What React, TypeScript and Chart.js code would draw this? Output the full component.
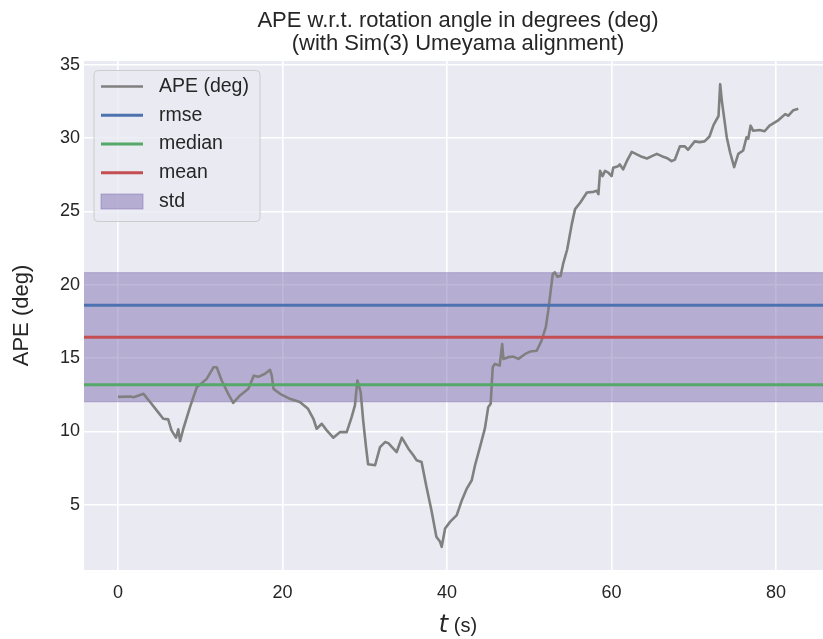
import React, { useEffect, useRef } from "react";
import { Chart, registerables } from "chart.js";

Chart.register(...registerables);

// Absolute pose error over time (seconds, degrees)
const TIME_S = [
  0.0, 1.5, 1.9, 3.1, 3.9, 4.7, 5.5, 6.1, 6.5, 7.05, 7.33, 7.54, 7.94, 8.75, 9.57, 10.78, 11.6, 12.0,
  12.6, 13.4, 14.0, 14.83, 15.85, 16.5, 17.06, 17.87, 18.48, 18.69, 18.9, 19.7, 20.9, 22.1, 23.1,
  23.75, 24.15, 24.77, 25.37, 26.17, 27.0, 27.8, 28.4, 28.8, 29.1, 29.5, 29.8, 30.15, 30.4, 31.25,
  31.85, 32.46, 32.86, 33.87, 34.5, 35.3, 35.9, 36.3, 36.9, 37.5, 38.1, 38.7, 39.15, 39.35, 39.76,
  40.36, 41.18, 41.8, 42.4, 43.0, 43.4, 44.0, 44.6, 45.0, 45.3, 45.55, 45.8, 46.4, 46.7, 46.85,
  47.45, 48.06, 48.67, 49.5, 50.1, 50.9, 51.5, 52.0, 52.3, 52.6, 52.85, 53.1, 53.4, 53.8, 54.1,
  54.6, 55.16, 55.56, 56.2, 57.0, 57.8, 58.2, 58.4, 58.6, 58.9, 59.2, 59.6, 60.0, 60.2, 60.8, 61.0,
  61.4, 61.85, 62.45, 63.5, 64.3, 64.9, 65.5, 66.1, 66.7, 67.3, 67.7, 68.3, 68.9, 69.3, 70.1, 70.7,
  71.3, 71.9, 72.4, 73.0, 73.2, 73.4, 74.0, 74.4, 74.9, 75.4, 76.0, 76.4, 76.6, 76.9, 77.2, 78.0,
  78.6, 79.2, 80.2, 81.1, 81.5, 82.1, 82.7,
];

const APE_DEG = [
  12.35, 12.38, 12.33, 12.56, 12.0, 11.43, 10.86, 10.82, 10.07, 9.57, 10.14, 9.34, 10.18, 11.65, 13.0,
  13.58, 14.37, 14.37, 13.47, 12.56, 11.95, 12.45, 12.9, 13.8, 13.72, 13.93, 14.2, 13.8, 12.9, 12.56,
  12.22, 12.0, 11.54, 10.86, 10.18, 10.52, 10.07, 9.57, 9.95, 9.95, 10.97, 11.77, 13.47, 12.67, 10.75,
  8.93, 7.76, 7.69, 8.93, 9.27, 9.2, 8.59, 9.57, 8.82, 8.37, 8.03, 7.91, 6.21, 4.63, 2.81, 2.47, 2.13,
  3.38, 3.83, 4.29, 5.31, 6.1, 6.67, 7.69, 8.93, 10.2, 11.65, 11.88, 14.37, 14.6, 14.49, 15.96, 14.94,
  15.06, 15.1, 14.94, 15.28, 15.44, 15.5, 16.2, 17.1, 18.23, 19.6, 20.73, 20.84, 20.55, 20.6, 21.4,
  22.4, 24.13, 25.15, 25.6, 26.28, 26.33, 26.4, 26.17, 27.76, 27.4, 27.76, 27.64, 27.4, 27.97, 28.08,
  28.2, 27.86, 28.42, 29.05, 28.76, 28.6, 28.76, 28.92, 28.76, 28.64, 28.42, 28.53, 29.43, 29.43,
  29.2, 29.77, 29.72, 29.77, 30.1, 30.9, 31.5, 33.67, 32.55, 30.05, 29.03, 28.01, 28.92, 29.15, 30.05,
  29.94, 30.84, 30.5, 30.55, 30.46, 30.84, 31.18, 31.63, 31.52, 31.9, 32.0,
];

// Summary statistics of the error
const STAT_NAMES = ["rmse", "median", "mean"];
const STAT_VALUES = [18.6, 13.18, 16.42];
const STAT_COLORS = ["#4C72B0", "#55A868", "#C44E52"];
const STD_NAME = "std";
const STD_VALUE = 8.8;
const MEAN_VALUE = STAT_VALUES[2];

const X_TICKS = [0, 20, 40, 60, 80];
const Y_TICKS = [5, 10, 15, 20, 25, 30, 35];
const X_LIMITS = [-4.135, 85.7];
const Y_LIMITS = [0.55, 35.25];

const TITLE_LINES = ["APE w.r.t. rotation angle in degrees (deg)", "(with Sim(3) Umeyama alignment)"];
const Y_LABEL = "APE (deg)";
const LINE_LABEL = "APE (deg)";

const FONT = "'Liberation Sans', Arial, sans-serif";
const TEXT_COLOR = "#262626";
const AXES_BG = "#EAEAF2";
const LINE_GRAY = "#808080";
const STD_FILL = "rgba(129,114,178,0.5)";

const decorPlugin = {
  id: "decor",
  beforeDraw(chart: any) {
    const { ctx, chartArea } = chart;
    ctx.save();
    ctx.fillStyle = AXES_BG;
    ctx.fillRect(chartArea.left, chartArea.top, chartArea.right - chartArea.left, chartArea.bottom - chartArea.top);
    ctx.restore();
  },
  afterDraw(chart: any) {
    const { ctx, chartArea } = chart;
    const left = chartArea.left;
    const top = chartArea.top;
    const cx = left + 374;
    ctx.save();
    ctx.fillStyle = TEXT_COLOR;
    ctx.textAlign = "center";
    ctx.textBaseline = "middle";

    // title
    ctx.font = `22px ${FONT}`;
    ctx.fillText(TITLE_LINES[0], cx, 21);
    ctx.fillText(TITLE_LINES[1], cx, 44);

    // y label
    ctx.save();
    ctx.translate(22, (chartArea.top + chartArea.bottom) / 2);
    ctx.rotate(-Math.PI / 2);
    ctx.font = `22px ${FONT}`;
    ctx.fillText(Y_LABEL, 0, 0);
    ctx.restore();

    // x label: italic t followed by (s)
    ctx.textAlign = "left";
    ctx.textBaseline = "alphabetic";
    const tFont = `italic 24px 'DejaVu Sans', ${FONT}`;
    const sFont = `20px ${FONT}`;
    ctx.font = tFont;
    const wT = ctx.measureText("t").width;
    ctx.font = sFont;
    const wS = ctx.measureText(" (s)").width;
    const x0 = cx - (wT + wS) / 2;
    const base = 632;
    ctx.font = tFont;
    ctx.fillText("t", x0, base);
    ctx.font = sFont;
    ctx.fillText(" (s)", x0 + wT, base);

    // legend
    const bx = left + 10;
    const by = top + 9.5;
    const bw = 166;
    const bh = 151;
    ctx.beginPath();
    ctx.roundRect(bx, by, bw, bh, 4);
    ctx.fillStyle = "rgba(234,234,242,0.8)";
    ctx.fill();
    ctx.strokeStyle = "#cccccc";
    ctx.lineWidth = 1;
    ctx.stroke();

    const rowY = (i: number) => by + 16 + i * 28.75;
    const hx0 = bx + 7;
    const hx1 = bx + 49;
    const tx = bx + 65;
    const entries = [
      { label: LINE_LABEL, color: LINE_GRAY, width: 2.6 },
      ...STAT_NAMES.map((n, i) => ({ label: n, color: STAT_COLORS[i], width: 3 })),
    ];
    ctx.font = `19.5px ${FONT}`;
    ctx.textBaseline = "middle";
    entries.forEach((e, i) => {
      const y = rowY(i);
      ctx.beginPath();
      ctx.moveTo(hx0, y);
      ctx.lineTo(hx1, y);
      ctx.strokeStyle = e.color;
      ctx.lineWidth = e.width;
      ctx.stroke();
      ctx.fillStyle = TEXT_COLOR;
      ctx.fillText(e.label, tx, y);
    });
    const sy = rowY(entries.length);
    ctx.fillStyle = STD_FILL;
    ctx.fillRect(hx0, sy - 7.5, hx1 - hx0, 15);
    ctx.strokeStyle = STD_FILL;
    ctx.lineWidth = 1;
    ctx.strokeRect(hx0, sy - 7.5, hx1 - hx0, 15);
    ctx.fillStyle = TEXT_COLOR;
    ctx.fillText(STD_NAME, tx, sy);
    ctx.restore();
  },
};

export default function App() {
  const canvasRef = useRef<HTMLCanvasElement | null>(null);

  useEffect(() => {
    const canvas = canvasRef.current;
    if (!canvas) return;
    const [xMin, xMax] = X_LIMITS;
    const span = (v: number) => [
      { x: xMin, y: v },
      { x: xMax, y: v },
    ];
    const apePoints = TIME_S.map((t, i) => ({ x: t, y: APE_DEG[i] }));

    // higher order draws first (underneath): std band, then APE, then stat lines
    const datasets: any[] = [
      {
        label: STD_NAME + "_upper",
        data: span(MEAN_VALUE + STD_VALUE / 2),
        borderColor: STD_FILL,
        borderWidth: 1,
        backgroundColor: STD_FILL,
        fill: "+1",
        pointRadius: 0,
        order: 20,
      },
      {
        label: STD_NAME + "_lower",
        data: span(MEAN_VALUE - STD_VALUE / 2),
        borderColor: STD_FILL,
        borderWidth: 1,
        fill: false,
        pointRadius: 0,
        order: 21,
      },
      ...STAT_NAMES.map((n, i) => ({
        label: n,
        data: span(STAT_VALUES[i]),
        borderColor: STAT_COLORS[i],
        borderWidth: 3,
        fill: false,
        pointRadius: 0,
        order: 1 + i,
      })),
      {
        label: LINE_LABEL,
        data: apePoints,
        borderColor: LINE_GRAY,
        borderWidth: 2.6,
        borderJoinStyle: "round",
        fill: false,
        pointRadius: 0,
        tension: 0,
        order: 10,
      },
    ];

    const chart = new Chart(canvas, {
      type: "line",
      data: { datasets },
      plugins: [decorPlugin],
      options: {
        responsive: false,
        animation: false,
        devicePixelRatio: 1,
        layout: { padding: { top: 61, left: 0, right: 0, bottom: 0 } },
        plugins: {
          legend: { display: false },
          tooltip: { enabled: false },
          title: { display: false },
        },
        scales: {
          x: {
            type: "linear",
            min: X_LIMITS[0],
            max: X_LIMITS[1],
            afterBuildTicks: (scale: any) => {
              scale.ticks = X_TICKS.map((v) => ({ value: v }));
            },
            afterFit: (scale: any) => {
              scale.height = 69;
            },
            grid: { color: "#ffffff", lineWidth: 1.6, drawTicks: false },
            border: { display: false },
            ticks: {
              color: TEXT_COLOR,
              font: { family: FONT, size: 18 },
              padding: 12,
              maxRotation: 0,
              autoSkip: false,
            },
          },
          y: {
            type: "linear",
            min: Y_LIMITS[0],
            max: Y_LIMITS[1],
            afterBuildTicks: (scale: any) => {
              scale.ticks = Y_TICKS.map((v) => ({ value: v }));
            },
            afterFit: (scale: any) => {
              scale.width = 84;
            },
            grid: { color: "#ffffff", lineWidth: 1.6, drawTicks: false },
            border: { display: false },
            ticks: {
              color: TEXT_COLOR,
              font: { family: FONT, size: 18 },
              padding: 4,
              autoSkip: false,
            },
          },
        },
      },
    });
    return () => chart.destroy();
  }, []);

  return (
    <div style={{ position: "fixed", left: 0, top: 0, width: 823, height: 639, background: "#ffffff" }}>
      <canvas ref={canvasRef} width={823} height={639} />
    </div>
  );
}
